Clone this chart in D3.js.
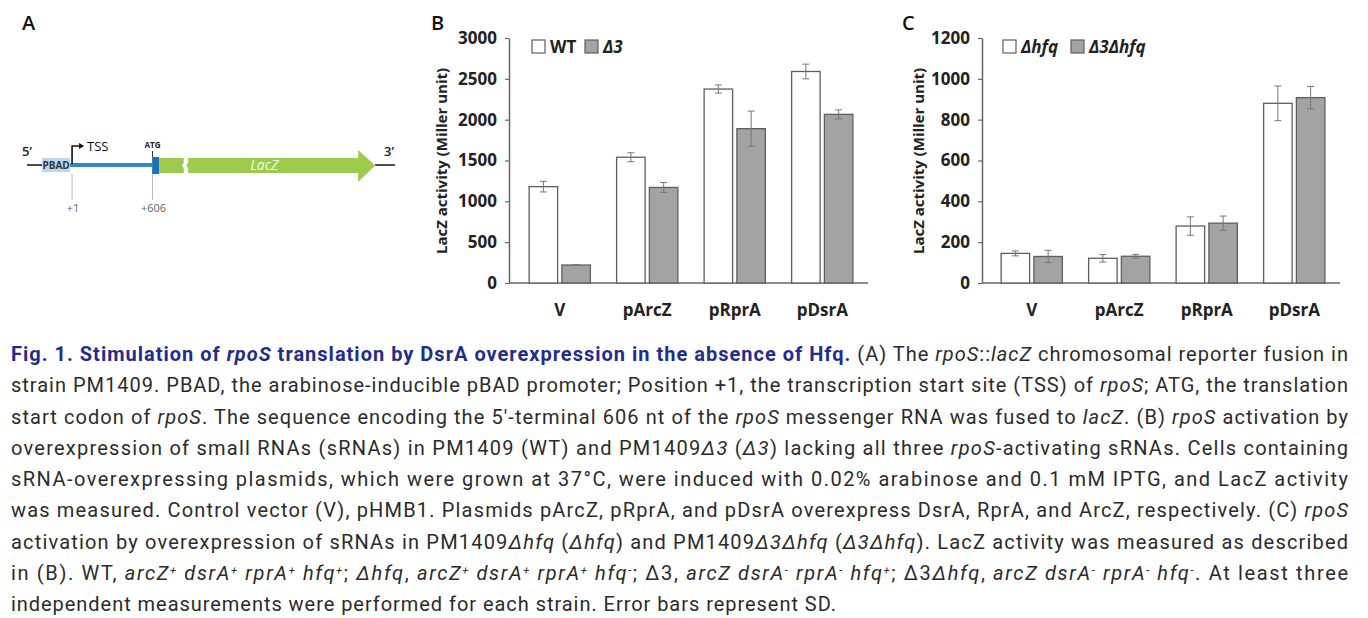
<!DOCTYPE html>
<html>
<head>
<meta charset="utf-8">
<script src="https://cdn.jsdelivr.net/npm/d3@7"></script>
<style>
  body { margin: 0; background: #fff; }
  svg { display: block; }
</style>
</head>
<body>
<div id="fig"></div>
<script>
// values (Miller units)
const categories = ["V", "pArcZ", "pRprA", "pDsrA"]

const seriesB = ["WT", "Δ3"]
const wtMean = [1180, 1540, 2375, 2590]
const wtSD = [65, 55, 50, 90]
const d3Mean = [220, 1170, 1890, 2065]
const d3SD = [4, 60, 215, 55]
const ticksB = [0, 500, 1000, 1500, 2000, 2500, 3000]

const seriesC = ["Δhfq", "Δ3Δhfq"]
const hfqMean = [145, 121, 279, 880]
const hfqSD = [12, 18, 45, 85]
const d3hfqMean = [130, 131, 293, 908]
const d3hfqSD = [30, 9, 35, 55]
const ticksC = [0, 200, 400, 600, 800, 1000, 1200]

// caption: [..] blue bold, _.._ italic, ^x superscript
const captionLines = [
  "[Fig. 1. Stimulation of _rpoS_ translation by DsrA overexpression in the absence of Hfq.] (A) The _rpoS_::_lacZ_ chromosomal reporter fusion in",
  "strain PM1409. PBAD, the arabinose-inducible pBAD promoter; Position +1, the transcription start site (TSS) of _rpoS_; ATG, the translation",
  "start codon of _rpoS_. The sequence encoding the 5'-terminal 606 nt of the _rpoS_ messenger RNA was fused to _lacZ_. (B) _rpoS_ activation by",
  "overexpression of small RNAs (sRNAs) in PM1409 (WT) and PM1409_Δ3_ (_Δ3_) lacking all three _rpoS_-activating sRNAs. Cells containing",
  "sRNA-overexpressing plasmids, which were grown at 37°C, were induced with 0.02% arabinose and 0.1 mM IPTG, and LacZ activity",
  "was measured. Control vector (V), pHMB1. Plasmids pArcZ, pRprA, and pDsrA overexpress DsrA, RprA, and ArcZ, respectively. (C) _rpoS_",
  "activation by overexpression of sRNAs in PM1409_Δhfq_ (_Δhfq_) and PM1409_Δ3Δhfq_ (_Δ3Δhfq_). LacZ activity was measured as described",
  "in (B). WT, _arcZ^+ dsrA^+ rprA^+ hfq^+_; _Δhfq_, _arcZ^+ dsrA^+ rprA^+ hfq^-_; Δ3, _arcZ dsrA^- rprA^- hfq^+_; Δ3_Δhfq_, _arcZ dsrA^- rprA^- hfq^-_. At least three",
  "independent measurements were performed for each strain. Error bars represent SD."
]

var svg = d3.select("#fig").append("svg").attr("width", 1368).attr("height", 618)
svg.append("rect").attr("width", 1368).attr("height", 618).attr("fill", "#fff")

// panel letters
svg.selectAll("text.plabel").data([["A", 22], ["B", 431], ["C", 902]]).enter().append("text")
  .attr("class", "plabel").attr("x", d => d[1]).attr("y", 30).text(d => d[0])
  .style("font-family", "'Open Sans', sans-serif").style("font-weight", 600).style("font-size", "20px").style("fill", "#111")

drawDiagram()

drawPanel({
  series: seriesB, means: [wtMean, d3Mean], sds: [wtSD, d3SD], yMax: 3000, ticks: ticksB,
  axisX: 509, xRange: [516, 866], titleX: 441, legX: [532, 585]
})
drawPanel({
  series: seriesC, means: [hfqMean, d3hfqMean], sds: [hfqSD, d3hfqSD], yMax: 1200, ticks: ticksC,
  axisX: 982, xRange: [988, 1338], titleX: 918, legX: [1003, 1071]
})

drawCaption()

function drawPanel(p) {
  var g = svg.append("g")
  var x0 = d3.scaleBand().domain(categories).range(p.xRange).paddingInner(0.3).paddingOuter(0.15)
  var x1 = d3.scaleBand().domain([0, 1]).range([0, x0.bandwidth()]).paddingInner(0.13)
  var y = d3.scaleLinear().domain([0, p.yMax]).range([283, 38])
  var font = "'Open Sans', sans-serif"

  // y axis
  var ya = g.append("g").attr("transform", "translate(" + p.axisX + ",0)")
    .call(d3.axisLeft(y).tickValues(p.ticks).tickFormat(d3.format("d")).tickSize(4).tickSizeOuter(0).tickPadding(8))
  ya.select(".domain").attr("stroke", "#666").attr("stroke-width", 1.5)
  ya.selectAll(".tick line").attr("stroke", "#666").attr("stroke-width", 1.2)
  ya.selectAll(".tick text").style("font-family", font).style("font-weight", 700).style("font-size", "17px").style("fill", "#222")

  // baseline and category labels
  g.append("line").attr("x1", p.axisX).attr("x2", p.xRange[1] + 2).attr("y1", y(0)).attr("y2", y(0))
    .attr("stroke", "#666").attr("stroke-width", 1.6)
  g.selectAll("text.cat").data(categories).enter().append("text").attr("class", "cat")
    .attr("x", d => x0(d) + x0.bandwidth() / 2).attr("y", 316).attr("text-anchor", "middle").text(d => d)
    .style("font-family", font).style("font-weight", 700).style("font-size", "17px").style("fill", "#222")

  // y title
  g.append("text").attr("transform", "translate(" + p.titleX + ",161) rotate(-90)")
    .attr("text-anchor", "middle").attr("dominant-baseline", "central").text("LacZ activity (Miller unit)")
    .style("font-family", font).style("font-weight", 700).style("font-size", "15px").style("fill", "#222")

  var fills = ["#ffffff", "#a3a3a3"]
  var rows = []
  p.series.forEach((s, k) => categories.forEach((c, i) => rows.push({ cat: c, k: k, m: p.means[k][i], sd: p.sds[k][i] })))

  g.selectAll("rect.bar").data(rows).enter().append("rect").attr("class", "bar")
    .attr("x", d => x0(d.cat) + x1(d.k)).attr("width", x1.bandwidth())
    .attr("y", d => y(d.m)).attr("height", d => y(0) - y(d.m))
    .attr("fill", d => fills[d.k]).attr("stroke", "#5e5e5e").attr("stroke-width", 1.3)

  // error bars
  var eb = g.selectAll("g.err").data(rows).enter().append("g").attr("class", "err")
    .attr("transform", d => "translate(" + (x0(d.cat) + x1(d.k) + x1.bandwidth() / 2) + ",0)")
  eb.append("line").attr("y1", d => y(d.m - d.sd)).attr("y2", d => y(d.m + d.sd)).attr("stroke", "#777").attr("stroke-width", 1)
  eb.append("line").attr("x1", -3.5).attr("x2", 3.5).attr("y1", d => y(d.m + d.sd)).attr("y2", d => y(d.m + d.sd)).attr("stroke", "#777")
  eb.append("line").attr("x1", -3.5).attr("x2", 3.5).attr("y1", d => y(d.m - d.sd)).attr("y2", d => y(d.m - d.sd)).attr("stroke", "#777")

  // legend
  var lg = g.selectAll("g.leg").data(p.series).enter().append("g").attr("class", "leg")
    .attr("transform", (d, k) => "translate(" + p.legX[k] + ",40)")
  lg.append("rect").attr("width", 13).attr("height", 13).attr("fill", (d, k) => fills[k]).attr("stroke", "#5e5e5e").attr("stroke-width", 1.2)
  lg.append("text").attr("x", 18).attr("y", 12.5).text(d => d)
    .style("font-family", font).style("font-weight", 700).style("font-size", "17px").style("fill", "#222")
    .style("font-style", d => d == "WT" ? "normal" : "italic")
}

function drawDiagram() {
  // schematic units along the construct, 0 = left end, 100 = right end
  var xd = d3.scaleLinear().domain([0, 100]).range([27, 395])
  var g = svg.append("g")
  var cy = 165
  var font = "'Open Sans', sans-serif"

  g.selectAll("line.dna").data([[0, 4.1], [94.6, 100]]).enter().append("line").attr("class", "dna")
    .attr("x1", d => xd(d[0])).attr("x2", d => xd(d[1])).attr("y1", cy).attr("y2", cy).attr("stroke", "#111").attr("stroke-width", 1.5)

  g.append("rect").attr("x", xd(4.1)).attr("width", xd(11.7) - xd(4.1)).attr("y", cy - 7).attr("height", 14).attr("fill", "#b9d7ee")
  g.append("text").attr("x", (xd(4.1) + xd(11.7)) / 2).attr("y", cy + 4).attr("text-anchor", "middle").text("PBAD")
    .style("font-family", font).style("font-weight", 700).style("font-size", "10px").style("fill", "#333")

  g.append("line").attr("x1", xd(11.7)).attr("x2", xd(34)).attr("y1", cy).attr("y2", cy).attr("stroke", "#2f86c9").attr("stroke-width", 4)
  g.append("rect").attr("x", xd(34)).attr("width", xd(35.9) - xd(34)).attr("y", cy - 8).attr("height", 17).attr("fill", "#1c70b8")

  var green = "#9ccb4c", top = cy - 7, bot = cy + 8, mid = cy + 0.5
  var p1 = [[xd(35.9), top], [xd(42.6), top], [xd(42.6), mid - 3], [xd(42.1), mid], [xd(42.6), mid + 3], [xd(42.6), bot], [xd(35.9), bot]]
  g.append("polygon").attr("points", p1.map(d => d.join(",")).join(" ")).attr("fill", green)
  var p2 = [[xd(43.8), top], [xd(90), top], [xd(90), cy - 15], [xd(94.6), cy + 0.5], [xd(90), cy + 17], [xd(90), bot],
    [xd(43.8), bot], [xd(43.8), mid + 3], [xd(43.3), mid], [xd(43.8), mid - 3]]
  g.append("polygon").attr("points", p2.map(d => d.join(",")).join(" ")).attr("fill", green)
  g.append("text").attr("x", xd(64.5)).attr("y", cy + 5).attr("text-anchor", "middle").text("LacZ")
    .style("font-family", font).style("font-style", "italic").style("font-size", "14px").style("fill", "#f4f9ea")

  // TSS bent arrow
  var tx = xd(12.25)
  g.append("path").attr("d", "M" + tx + "," + (cy - 1) + "V" + (cy - 19) + "H" + (tx + 8)).attr("fill", "none").attr("stroke", "#111").attr("stroke-width", 1.6)
  g.append("path").attr("d", "M" + (tx + 12) + "," + (cy - 19) + "l-5,-3v6z").attr("fill", "#111")
  g.append("text").attr("x", tx + 15).attr("y", cy - 14).text("TSS")
    .style("font-family", font).style("font-size", "13px").style("fill", "#111")

  var ax = xd(34.1)
  g.append("line").attr("x1", ax).attr("x2", ax).attr("y1", cy - 14).attr("y2", cy - 8).attr("stroke", "#333")
  g.append("text").attr("x", ax).attr("y", cy - 17).attr("text-anchor", "middle").text("ATG")
    .style("font-family", font).style("font-weight", 700).style("font-size", "8px").style("fill", "#222")

  // position guides
  g.selectAll("line.guide").data([12.25, 34.1]).enter().append("line").attr("class", "guide")
    .attr("x1", d => xd(d)).attr("x2", d => xd(d)).attr("y1", cy + 9).attr("y2", cy + 35).attr("stroke", "#aaa").attr("stroke-width", 0.8)
  g.selectAll("text.pos").data([[12.25, "+1"], [34.1, "+606"]]).enter().append("text").attr("class", "pos")
    .attr("x", d => xd(d[0]) + 1).attr("y", cy + 47).attr("text-anchor", "middle").text(d => d[1])
    .style("font-family", font).style("font-size", "11px").style("fill", "#666")

  g.selectAll("text.end").data([["5’", 22], ["3’", 384]]).enter().append("text").attr("class", "end")
    .attr("x", d => d[1]).attr("y", cy - 9).text(d => d[0])
    .style("font-family", font).style("font-weight", 600).style("font-size", "13px").style("fill", "#222")
}

function parseRuns(str) {
  var out = [], b = false, it = false, cur = { t: "", b: b, i: it, sup: false }
  function push() { if (cur.t) out.push(cur) }
  for (var k = 0; k < str.length; k++) {
    var c = str[k]
    if (c == "[" || c == "]" || c == "_") {
      push()
      if (c == "[") b = true
      else if (c == "]") b = false
      else it = !it
      cur = { t: "", b: b, i: it, sup: false }
    } else if (c == "^") {
      push()
      out.push({ t: str[k + 1], b: b, i: it, sup: true })
      k++
      cur = { t: "", b: b, i: it, sup: false }
    } else cur.t += c
  }
  push()
  return out
}

function drawCaption() {
  var g = svg.append("g")
  captionLines.forEach(function (line, n) {
    var last = n == captionLines.length - 1
    var t = g.append("text").attr("x", 11).attr("y", 361 + n * 31.25)
      .attr("textLength", last ? 825 : 1337).attr("lengthAdjust", "spacing")
      .style("font-family", "Roboto, sans-serif").style("font-size", "20px").style("fill", "#2b2b2b")
    parseRuns(line).forEach(function (r) {
      var s = t.append("tspan").text(r.t)
      if (r.b) s.style("font-weight", 700).style("fill", "#1f2d8f")
      if (r.i) s.style("font-style", "italic")
      if (r.sup) s.attr("baseline-shift", "super").style("font-size", "11px")
    })
  })
}
</script>
</body>
</html>
